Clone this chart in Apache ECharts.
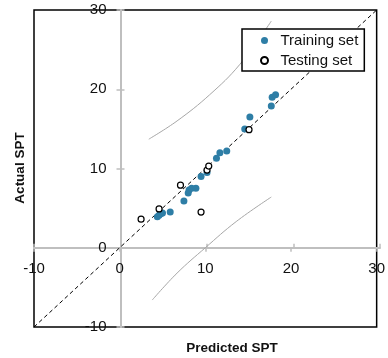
<!DOCTYPE html>
<html>
<head>
<meta charset="utf-8">
<script src="https://cdn.jsdelivr.net/npm/echarts@6/dist/echarts.min.js"></script>
<style>
  html, body { margin: 0; padding: 0; background: #fff; }
  #chart { width: 388px; height: 358px; }
</style>
</head>
<body>
<div id="chart"></div>
<script>
// axis range (same for predicted and actual)
const axisMin = -10;
const axisMax = 30;
const axisStep = 10;

// [predicted, actual]
const trainingSet = [
  [4.4, 3.9], [4.6, 4.1], [4.8, 4.3], [5.0, 4.4], [5.9, 4.5],
  [7.5, 5.9], [8.0, 6.9], [8.1, 7.3], [8.4, 7.5], [8.9, 7.5],
  [9.5, 9.0], [10.2, 9.5], [11.3, 11.3], [11.7, 12.0], [12.5, 12.2],
  [14.6, 15.0], [15.2, 16.5], [17.7, 17.9], [17.8, 19.0], [18.2, 19.3]
];
const testingSet = [
  [2.5, 3.6], [4.6, 4.9], [7.1, 7.9], [9.5, 4.5],
  [10.2, 9.8], [10.4, 10.3], [15.1, 14.9]
];

// prediction band curves
const upperBand = [[3.4, 13.7], [6.7, 16.0], [10.5, 19.3], [14.0, 23.1], [17.7, 28.6]];
const lowerBand = [[3.8, -6.6], [6.7, -3.2], [10.0, 0], [13.6, 3.3], [17.7, 6.4]];

// 1:1 line
const identityLine = [[-10, -10], [30, 30]];

const font = "'Liberation Sans', Arial, sans-serif";
const gray = '#bfbfbf';

const W = 388, H = 358;
const box = { left: 34, top: 10, right: 8, bottom: 31 };
const plotW = W - box.left - box.right;
const plotH = H - box.top - box.bottom;
const zeroFrac = (0 - axisMin) / (axisMax - axisMin);
// shift the axes from the frame edge to the zero lines
const xShift = -(plotH * zeroFrac);
const yShift = -(plotW * zeroFrac);

const chart = echarts.init(document.getElementById('chart'), null, { renderer: 'canvas' });

const valueAxis = (extra) => Object.assign({
  type: 'value',
  min: axisMin,
  max: axisMax,
  interval: axisStep,
  splitLine: { show: false },
  axisLine: { onZero: false, lineStyle: { color: gray, width: 2 } },
  axisTick: { show: true, length: 4, lineStyle: { color: gray, width: 1.5 } },
  axisLabel: { show: false }
}, extra);

const innerTick = { show: true, inside: true, length: 4, lineStyle: { color: gray, width: 1.5 } };

chart.setOption({
  animation: false,
  grid: [
    Object.assign({ show: true, borderColor: '#000', borderWidth: 1.5, backgroundColor: 'transparent' }, box),
    Object.assign({ show: false }, box)
  ],
  xAxis: [
    valueAxis({
      gridIndex: 0, position: 'bottom', offset: xShift,
      axisLabel: { show: true, color: '#111', fontSize: 15, fontFamily: font, margin: 14 }
    }),
    valueAxis({ gridIndex: 1, position: 'bottom', offset: xShift, axisTick: innerTick })
  ],
  yAxis: [
    valueAxis({
      gridIndex: 0, position: 'left', offset: yShift,
      axisLabel: { show: true, color: '#111', fontSize: 15, fontFamily: font, margin: 14 }
    }),
    valueAxis({ gridIndex: 1, position: 'left', offset: yShift, axisTick: innerTick })
  ],
  legend: {
    orient: 'vertical',
    left: 242,
    top: 29,
    padding: [4, 6, 3, 18],
    itemGap: 5,
    itemWidth: 22,
    itemHeight: 7,
    backgroundColor: '#fff',
    borderColor: '#000',
    borderWidth: 1.5,
    textStyle: { color: '#111', fontSize: 15, fontFamily: font },
    data: ['Training set', 'Testing set']
  },
  series: [
    {
      type: 'line', data: upperBand, smooth: 0.4, showSymbol: false, silent: true,
      lineStyle: { color: '#a6a6a6', width: 1 }, z: 1
    },
    {
      type: 'line', data: lowerBand, smooth: 0.4, showSymbol: false, silent: true,
      lineStyle: { color: '#a6a6a6', width: 1 }, z: 1
    },
    {
      type: 'line', data: identityLine, showSymbol: false, silent: true,
      lineStyle: { color: '#000', width: 1, type: [4, 3] }, z: 3
    },
    {
      name: 'Training set', type: 'scatter', data: trainingSet,
      symbol: 'circle', symbolSize: 7,
      itemStyle: { color: '#2e7ea6', opacity: 1 }, z: 4
    },
    {
      name: 'Testing set', type: 'scatter', data: testingSet,
      symbol: 'circle', symbolSize: 6,
      itemStyle: { color: '#fff', borderColor: '#000', borderWidth: 1.2, opacity: 1 }, z: 5
    }
  ],
  graphic: [
    {
      type: 'text', x: 232, y: 348,
      style: {
        text: 'Predicted SPT', fill: '#111', font: 'bold 13.5px ' + font,
        align: 'center', verticalAlign: 'middle'
      }
    },
    {
      type: 'text', x: 20, y: 168, rotation: Math.PI / 2,
      style: {
        text: 'Actual SPT', fill: '#111', font: 'bold 13.5px ' + font,
        align: 'center', verticalAlign: 'middle'
      }
    }
  ]
});
</script>
</body>
</html>
